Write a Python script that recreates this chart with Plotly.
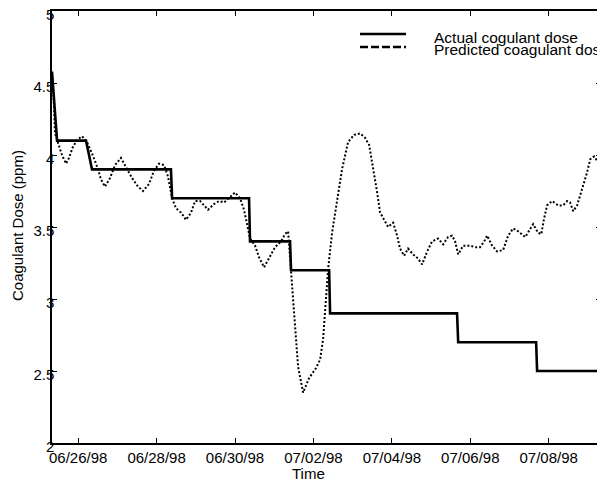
import pandas as pd
import plotly.graph_objects as go

START = pd.Timestamp("1998-06-25 08:00")

# Actual coagulant dose (hours since start, ppm)
actual_hours = [0.0, 3.1, 20.8, 24.5, 72.8, 73.5, 120.6, 121.2, 145.7, 146.3,
                169.6, 170.2, 247.9, 248.6, 296.3, 296.9, 336.1]
actual_dose = [4.58, 4.10, 4.10, 3.90, 3.90, 3.70, 3.70, 3.40, 3.40, 3.20,
               3.20, 2.90, 2.90, 2.70, 2.70, 2.50, 2.50]

# Predicted coagulant dose (hours since start, ppm)
pred_hours = [0.0, 1.2, 1.8, 4.3, 6.1, 8.6, 10.4, 12.9, 15.9, 18.4, 21.4, 24.5,
              27.6, 30.0, 32.4, 35.5, 38.6, 42.2, 45.3, 49.0, 52.7, 55.7, 59.4,
              62.4, 65.5, 68.6, 71.0, 73.5, 75.9, 79.0, 82.0, 85.1, 87.6, 90.6,
              93.1, 95.5, 99.2, 102.2, 105.3, 108.4, 112.0, 115.1, 117.5, 119.4,
              121.2, 124.3, 126.7, 129.8, 132.9, 136.5, 140.2, 142.6, 144.5,
              146.3, 147.5, 148.8, 150.6, 153.7, 157.3, 161.6, 164.1, 165.9,
              167.1, 169.0, 171.4, 174.5, 177.5, 181.2, 184.9, 188.6, 191.6,
              194.1, 196.5, 199.0, 200.8, 203.3, 205.7, 208.8, 211.2, 213.0,
              215.5, 217.9, 221.0, 224.1, 226.5, 229.6, 232.6, 236.3, 239.4,
              242.4, 244.9, 246.7, 248.6, 251.6, 255.9, 258.9, 262.0, 264.5,
              266.3, 269.4, 272.4, 276.1, 279.2, 282.2, 285.3, 289.6, 292.6,
              294.5, 297.5, 299.4, 301.2, 303.0, 306.1, 309.8, 312.8, 315.3,
              317.1, 319.0, 321.4, 324.5, 327.5, 329.4, 331.8, 333.6, 336.1]
pred_dose = [4.56, 4.35, 4.15, 4.06, 4.00, 3.94, 3.98, 4.06, 4.11, 4.13, 4.09, 4.01,
             3.92, 3.83, 3.78, 3.84, 3.93, 3.98, 3.92, 3.84, 3.78, 3.75, 3.80,
             3.89, 3.94, 3.93, 3.85, 3.70, 3.63, 3.60, 3.55, 3.60, 3.68, 3.68,
             3.65, 3.62, 3.66, 3.68, 3.67, 3.70, 3.74, 3.70, 3.62, 3.52,
             3.42, 3.37, 3.29, 3.22, 3.29, 3.36, 3.40, 3.45, 3.47,
             3.19, 2.95, 2.74, 2.53, 2.35, 2.45, 2.52, 2.58, 2.72,
             2.91, 3.21, 3.46, 3.70, 3.90, 4.09, 4.14, 4.15, 4.12,
             4.07, 3.92, 3.74, 3.60, 3.55, 3.50, 3.53, 3.44, 3.35,
             3.30, 3.35, 3.31, 3.28, 3.24, 3.33, 3.40, 3.42, 3.38,
             3.43, 3.44, 3.40, 3.31, 3.37, 3.37, 3.36, 3.36, 3.40,
             3.44, 3.37, 3.33, 3.34, 3.44, 3.49, 3.47, 3.43, 3.49,
             3.52, 3.46, 3.45, 3.56, 3.65, 3.68, 3.65, 3.65, 3.68,
             3.67, 3.61, 3.65, 3.76, 3.88, 3.97, 3.99, 3.96, 3.95]

x_tick_dates = ["1998-06-26", "1998-06-28", "1998-06-30", "1998-07-02",
                "1998-07-04", "1998-07-06", "1998-07-08"]
x_tick_labels = ["06/26/98", "06/28/98", "06/30/98", "07/02/98",
                 "07/04/98", "07/06/98", "07/08/98"]
y_tick_vals = [2, 2.5, 3, 3.5, 4, 4.5, 5]
y_tick_labels = ["2", "2.5", "3", "3.5", "4", "4.5", "5"]

legend_labels = ["Actual cogulant dose", "Predicted coagulant dose"]

actual_t = [START + pd.Timedelta(hours=h) for h in actual_hours]
pred_t = [START + pd.Timedelta(hours=h) for h in pred_hours]

FONT = "Liberation Sans, Arial, Helvetica, sans-serif"

# plot area in page pixels (reference): x 52..601, y 11..443
PL, PR, PT, PB = 52, 601, 11, 443
PW, PH = PR - PL, PB - PT


def px(x):
    return (x - PL) / PW


def py(y):
    return 1 - (y - PT) / PH


fig = go.Figure()
fig.add_trace(go.Scatter(x=pred_t, y=pred_dose, mode="lines",
                         line=dict(color="black", width=2, dash="2px,2px"),
                         showlegend=False, hoverinfo="skip"))
fig.add_trace(go.Scatter(x=actual_t, y=actual_dose, mode="lines",
                         line=dict(color="black", width=2.6),
                         showlegend=False, hoverinfo="skip"))

# legend drawn manually (sample lines + text)
fig.add_shape(type="line", xref="paper", yref="paper",
              x0=px(360), x1=px(406), y0=py(34), y1=py(34),
              line=dict(color="black", width=2.6))
fig.add_shape(type="line", xref="paper", yref="paper",
              x0=px(360), x1=px(406), y0=py(47), y1=py(47),
              line=dict(color="black", width=2.6, dash="8px,3px"))
for i, lab in enumerate(legend_labels):
    fig.add_annotation(text=lab, xref="paper", yref="paper",
                       x=px(432), y=py(37 + 12 * i),
                       xanchor="left", yanchor="middle", showarrow=False,
                       font=dict(family=FONT, size=15.5, color="black"))

fig.add_annotation(text="Time", xref="paper", yref="paper",
                   x=px(308), y=py(473),
                   xanchor="center", yanchor="middle", showarrow=False,
                   font=dict(family=FONT, size=15, color="black"))
fig.add_annotation(text="Coagulant Dose (ppm)", xref="paper", yref="paper",
                   x=px(18), y=py(226), textangle=-90,
                   xanchor="center", yanchor="middle", showarrow=False,
                   font=dict(family=FONT, size=15, color="black"))

axis_common = dict(showgrid=False, zeroline=False, showline=True,
                   linecolor="black", linewidth=1.5, mirror="ticks",
                   ticks="inside", ticklen=5, tickwidth=1, tickcolor="black",
                   ticklabeloverflow="allow",
                   tickfont=dict(family=FONT, size=15, color="black"))

fig.update_xaxes(type="date",
                 range=[START, START + pd.Timedelta(days=14)],
                 tickmode="array", tickvals=x_tick_dates, ticktext=x_tick_labels,
                 **axis_common)
fig.update_yaxes(range=[2, 5], tickmode="array", tickvals=y_tick_vals,
                 ticktext=y_tick_labels, ticklabelstandoff=-7,
                 ticklabelshift=4, **axis_common)

# page body has an 8px margin, so the figure is 8px smaller and shifted
OFF = 8
W, H = 605 - OFF, 481 - OFF
fig.update_layout(width=W, height=H,
                  margin=dict(l=PL - OFF, r=605 - PR, t=PT - OFF, b=481 - PB,
                              autoexpand=False),
                  paper_bgcolor="white", plot_bgcolor="white",
                  font=dict(family=FONT, size=15, color="black"),
                  showlegend=False)

fig.write_html("out.html", config={"displayModeBar": False})
